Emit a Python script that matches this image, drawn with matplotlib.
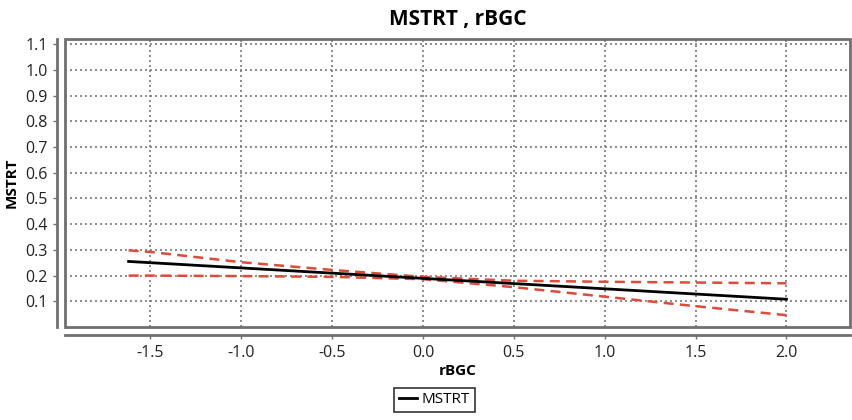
import matplotlib.pyplot as plt
from matplotlib.patches import Rectangle

plt.rcParams['font.family'] = ['Open Sans', 'DejaVu Sans']

# fitted line and confidence band
fit_x = [-1.62, 2.0]
fit_y = [0.255, 0.108]
band_x = [-1.62, -1.5, -1.0, -0.5, 0.0, 0.5, 1.0, 1.5, 2.0]
upper_y = [0.298, 0.292, 0.252, 0.222, 0.195, 0.180, 0.176, 0.173, 0.170]
lower_y = [0.200, 0.200, 0.198, 0.195, 0.186, 0.155, 0.118, 0.081, 0.046]
xticks = [-1.5, -1.0, -0.5, 0.0, 0.5, 1.0, 1.5, 2.0]
yticks = [0.1, 0.2, 0.3, 0.4, 0.5, 0.6, 0.7, 0.8, 0.9, 1.0, 1.1]

fig = plt.figure(figsize=(8.52, 4.2), dpi=100)
ax = fig.add_axes([0.0763, 0.2214, 0.9214, 0.6857])

red = '#de4a3c'
ax.plot(band_x, upper_y, color=red, lw=1.8, ls=(0, (4, 2.5)))
ax.plot(band_x, lower_y, color=red, lw=1.8, ls=(0, (4, 2.5)))
ax.plot(fit_x, fit_y, color='black', lw=2.0, label='MSTRT')

ax.set_xlim(-1.97, 2.35)
ax.set_ylim(0.0, 1.12)
ax.set_xticks(xticks)
ax.set_xticklabels([f'{v:.1f}' for v in xticks])
ax.set_yticks(yticks)
ax.set_yticklabels([f'{v:.1f}' for v in yticks])
ax.grid(True, color='#7a7a7a', ls=(0, (1.2, 1.8)), lw=1.2)
ax.set_axisbelow(True)

for s in ['top', 'right']:
    ax.spines[s].set_visible(False)
for s in ['left', 'bottom']:
    ax.spines[s].set_position(('outward', 6))
    ax.spines[s].set_color('#707070')
    ax.spines[s].set_linewidth(2)
ax.add_patch(Rectangle((0, 0), 1, 1, transform=ax.transAxes, fill=False,
                       edgecolor='#707070', lw=2, clip_on=False, zorder=5))
ax.tick_params(length=3, width=1, color='#707070', labelsize=11.5, colors='#222222')
ax.tick_params(axis='x', pad=4)

ax.set_title('MSTRT , rBGC', fontsize=15, fontweight='bold', pad=10)
ax.set_xlabel('rBGC', fontsize=11, fontweight='bold', labelpad=2)
ax.set_ylabel('MSTRT', fontsize=11, fontweight='bold', labelpad=5)

leg = fig.legend(loc='center', bbox_to_anchor=(0.51, 0.048), fontsize=11,
                 frameon=True, fancybox=False, handlelength=1.2, handletextpad=0.3,
                 borderpad=0.3)
leg.get_frame().set_edgecolor('black')
leg.get_frame().set_linewidth(1.2)

fig.savefig('out.png', dpi=100)
